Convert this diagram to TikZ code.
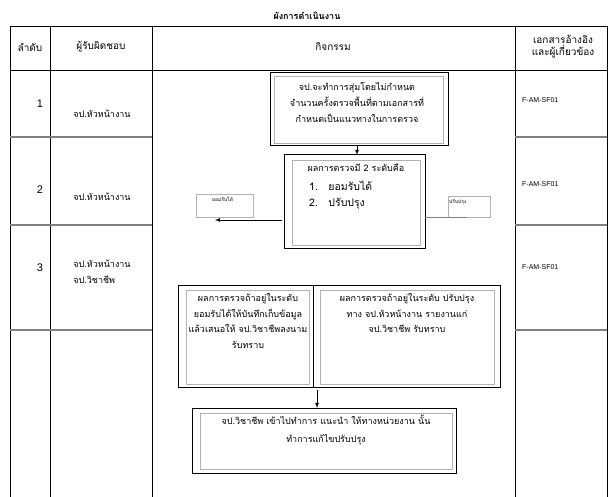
\documentclass[tikz,border=0pt]{standalone}
\usepackage{fontspec}
\setmainfont{Liberation Sans}
\newfontfamily\thaifont[Script=Thai]{Loma}
\begin{document}
\begin{tikzpicture}[x=1pt,y=-1pt,
  every node/.style={font=\thaifont\fontsize{9}{10}\selectfont, inner sep=0pt},
  outer/.style={draw=black, line width=1pt},
  inner/.style={draw=gray!60, line width=0.8pt},
  arr/.style={-latex, line width=0.8pt}]
\useasboundingbox (0,0) rectangle (614,497);
\fill[white] (0,0) rectangle (614,497);
\node[font=\thaifont\bfseries\fontsize{9}{10}\selectfont] (title) at (307,16) {ผังการดำเนินงาน};
% table
\draw[line width=0.6pt] (10,26) rectangle (607,520);
\draw[line width=0.6pt] (10,70) -- (607,70);
\foreach \x in {50,152,515} \draw[line width=0.6pt] (\x,26) -- (\x,520);
\foreach \y in {137,225,330} {\draw[line width=1.2pt,gray] (10,\y) -- (152,\y); \draw[line width=1.2pt,gray] (515,\y) -- (607,\y);}
\node[font=\thaifont\fontsize{10}{11}\selectfont] (h1) at (30,47) {ลำดับ};
\node[font=\thaifont\fontsize{10}{11}\selectfont] (h2) at (101,47) {ผู้รับผิดชอบ};
\node[font=\thaifont\fontsize{10}{11}\selectfont] (h3) at (333,47) {กิจกรรม};
\node[align=center,font=\thaifont\fontsize{10}{12}\selectfont] (h4) at (563,47) {เอกสารอ้างอิง\\และผู้เกี่ยวข้อง};
\node[font=\fontsize{11}{12}\selectfont\rmfamily] (n1) at (40,104) {1};
\node[font=\fontsize{11}{12}\selectfont\rmfamily] (n2) at (40,190) {2};
\node[font=\fontsize{11}{12}\selectfont\rmfamily] (n3) at (40,268) {3};
\node (r1) at (102,114) {จป.หัวหน้างาน};
\node (r2) at (102,197) {จป.หัวหน้างาน};
\node[align=left,font=\thaifont\fontsize{9}{16}\selectfont] (r3) at (102,272) {จป.หัวหน้างาน\\จป.วิชาชีพ};
\foreach \y/\n in {100/d1,184/d2,267/d3} \node[anchor=west,font=\fontsize{7}{8}\selectfont] (\n) at (522,\y) {F-AM-SF01};
% box1
\draw[outer] (270,73) rectangle (448,146); \draw[inner] (274,76) rectangle (443,143);
\node[align=center,font=\thaifont\fontsize{9}{16}\selectfont] (b1) at (357,102) {จป.จะทำการสุ่มโดยไม่กำหนด\\จำนวนครั้งตรวจพื้นที่ตามเอกสารที่\\กำหนดเป็นแนวทางในการตรวจ};
\coordinate (b1s) at (357,146);
% box2
\draw[outer] (284,155) rectangle (425,249); \draw[inner] (292,160) rectangle (420,245);
\coordinate (b2n) at (357,155);
\node (b2t) at (356,168) {ผลการตรวจมี 2 ระดับคือ};
\node[anchor=west,font=\thaifont\fontsize{10.5}{11}\selectfont] (b2a) at (309,186) {1.\quad ยอมรับได้};
\node[anchor=west,font=\thaifont\fontsize{10.5}{11}\selectfont] (b2b) at (309,204) {2.\quad ปรับปรุง};
\draw[arr] (b1s) -- (b2n);
% side labels
\draw[gray!60,line width=0.5pt] (196,194) rectangle (253,217);
\node[anchor=north west,font=\thaifont\fontsize{5}{6}\selectfont] (la) at (212,197) {ยอมรับได้};
\draw[gray!60,line width=0.5pt] (448,196) rectangle (490,217);
\node[anchor=north west,font=\thaifont\fontsize{5}{6}\selectfont] (lb) at (449,199) {ปรับปรุง};
\coordinate (b2w) at (282,220); \coordinate (aL) at (215,220);
\draw[arr] (b2w) -- (aL);
\coordinate (b2e) at (425,218); \coordinate (aR) at (467,218);
\draw[gray,line width=1pt] (b2e) -- (aR);
% box3
\draw[outer] (178,286) rectangle (313,388); \draw[inner] (186,290) rectangle (309,384);
\node[align=center,font=\thaifont\fontsize{9}{15.5}\selectfont] (b3l) at (248,321) {ผลการตรวจถ้าอยู่ในระดับ\\ยอมรับได้ให้บันทึกเก็บข้อมูล\\แล้วเสนอให้ จป.วิชาชีพลงนาม\\รับทราบ};
\draw[outer] (313,286) rectangle (500,388); \draw[inner] (320,290) rectangle (494,384);
\node[align=center,font=\thaifont\fontsize{9}{15.5}\selectfont] (b3r) at (407,313) {ผลการตรวจถ้าอยู่ในระดับ  ปรับปรุง\\ทาง จป.หัวหน้างาน รายงานแก่\\จป.วิชาชีพ รับทราบ};
\coordinate (b3s) at (317,390); \coordinate (b4n) at (317,408);
\draw[arr] (b3s) -- (b4n);
% box4
\draw[outer] (192,409) rectangle (456,473); \draw[inner] (200,413) rectangle (452,469);
\node[align=center,font=\thaifont\fontsize{9}{18}\selectfont] (b4) at (326,430) {จป.วิชาชีพ เข้าไปทำการ แนะนำ ให้ทางหน่วยงาน นั้น\\ทำการแก้ไขปรับปรุง};
\end{tikzpicture}
\end{document}
